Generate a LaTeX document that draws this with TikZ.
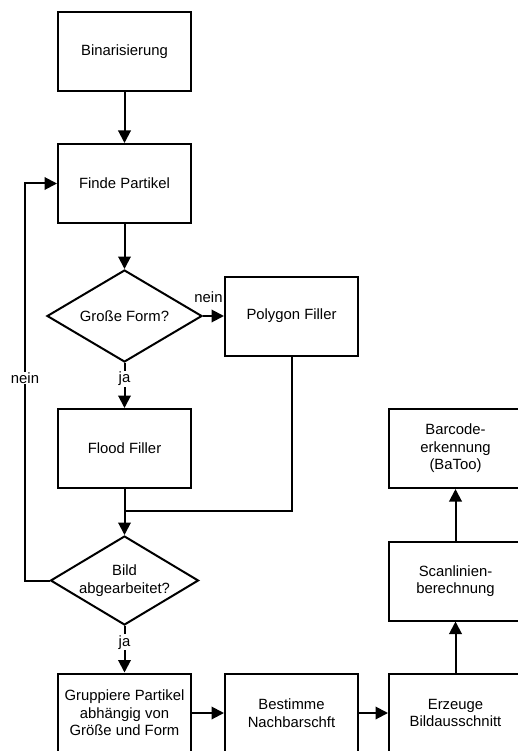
\documentclass[tikz,border=0pt]{standalone}
\usepackage{fontspec}
\setmainfont{Liberation Sans}
\usetikzlibrary{shapes.geometric,arrows.meta}
\newcommand{\figfont}{\fontsize{14.85pt}{17.5pt}\selectfont}
\begin{document}
\begin{tikzpicture}[x=1pt,y=-1pt,
  line width=2pt,
  box/.style={draw,fill=white,line width=2pt,minimum width=133pt,minimum height=79pt,inner sep=0pt,align=center,font=\figfont},
  decision/.style={draw,fill=white,diamond,line width=2pt,inner sep=0pt,align=center,font=\figfont},
  arr/.style={-{Triangle[length=12.5pt,width=12.5pt]}},
  lbl/.style={fill=white,inner sep=1pt,font=\figfont}]
\useasboundingbox (0,0) rectangle (518,751);
\node[box] (bin) at (124.5,51.5) {Binarisierung};
\node[box] (fp) at (124.5,183.5) {Finde Partikel};
\node[decision,aspect=1.685,minimum width=155pt,minimum height=92pt] (d1) at (124.5,316) {Große Form?};
\node[box] (poly) at (291.5,316) {Polygon Filler};
\node[box] (flood) at (124.5,448.5) {Flood Filler};
\node[decision,aspect=1.663,minimum width=148pt,minimum height=89pt] (d2) at (124.5,580.5) {Bild\\abgearbeitet?};
\node[box] (grp) at (124.5,713) {Gruppiere Partikel\\abhängig von\\Größe und Form};
\node[box] (best) at (291.5,713) {Bestimme\\Nachbarschft};
\node[box] (erz) at (455.5,713) {Erzeuge\\Bildausschnitt};
\node[box] (scan) at (455.5,581) {Scanlinien-\\berechnung};
\node[box] (bar) at (455.5,448.5) {Barcode-\\erkennung\\(BaToo)};

\coordinate (j2) at (124.5,510.5);
\coordinate (lp1) at (25,580.5);
\coordinate (lp2) at (25,183.5);

\draw[arr] (bin) -- (fp);
\draw[arr] (fp) -- (d1.north);
\draw[arr] (d1.east) -- (poly.west);
\node[font=\figfont] (nein1) at (208.5,297) {nein};
\draw[arr] (d1.south) -- node[lbl,pos=0.35] (ja1) {ja} (flood.north);
\draw[arr] (flood.south) -- (d2.north);
\draw (poly.south) |- (j2);
\draw[arr] (d2.west) -- (lp1) -- node[lbl,pos=0.51] (nein2) {nein} (lp2) -- (fp.west);
\draw[arr] (d2.south) -- node[lbl,pos=0.35] (ja2) {ja} (grp.north);
\draw[arr] (grp.east) -- (best.west);
\draw[arr] (best.east) -- (erz.west);
\draw[arr] (erz.north) -- (scan.south);
\draw[arr] (scan.north) -- (bar.south);
\end{tikzpicture}
\end{document}
